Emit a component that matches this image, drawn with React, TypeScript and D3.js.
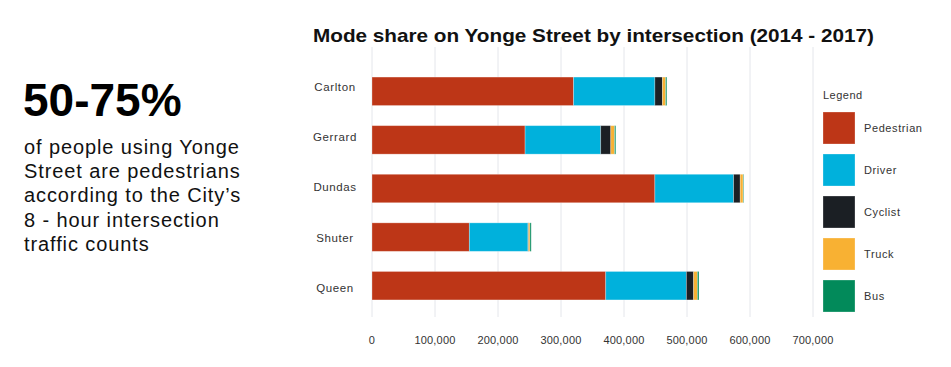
import * as d3 from "d3";
import { useEffect } from "react";

const width = 951;
const height = 367;

const intersections = ["Carlton", "Gerrard", "Dundas", "Shuter", "Queen"];
const modes = ["Pedestrian", "Driver", "Cyclist", "Truck", "Bus"];
const colors = ["#bd3617", "#00b1dc", "#1b1f24", "#f8b133", "#028a5a"];

// counts per intersection, same order as intersections
const pedestrian = [320000, 243000, 449000, 154500, 371000];
const driver = [129000, 120000, 125000, 93000, 128000];
const cyclist = [12000, 16000, 10500, 1000, 11500];
const truck = [5000, 6000, 4500, 2200, 6000];
const bus = [2000, 2000, 1000, 2000, 2500];

const xTicks = [0, 100000, 200000, 300000, 400000, 500000, 600000, 700000];

const paragraph = [
  "of people using Yonge",
  "Street are pedestrians",
  "according to the City\u2019s",
  "8 - hour intersection",
  "traffic counts",
];

const font = "'Liberation Sans', Arial, Helvetica, sans-serif";

const App = () => {
  useEffect(() => {
    document.body.style.margin = "0";
  }, []);

  const rows = intersections.map((name, i) => ({
    name,
    Pedestrian: pedestrian[i],
    Driver: driver[i],
    Cyclist: cyclist[i],
    Truck: truck[i],
    Bus: bus[i],
  }));

  const series = d3.stack().keys(modes)(rows as any);

  const x = d3.scaleLinear().domain([0, 700000]).range([372, 813]);
  const y = d3
    .scaleBand()
    .domain(intersections)
    .range([67, 310])
    .paddingInner(0.414)
    .paddingOuter(0.207);
  // the labels sit on their own, slightly wider spacing
  const yLabel = d3.scalePoint().domain(intersections).range([86.5, 288]);
  const color = d3.scaleOrdinal<string>().domain(modes).range(colors);
  const fmt = d3.format(",");

  return (
    <svg width={width} height={height} style={{ display: "block", fontFamily: font }}>
      <rect width={width} height={height} fill="#fff" />

      {/* left callout */}
      <text x={23} y={116} fontSize={46} fontWeight="bold" fill="#000">
        50-75%
      </text>
      {paragraph.map((line, i) => (
        <text key={line} x={24} y={154 + i * 24.2} fontSize={20} letterSpacing={0.9} fill="#111">
          {line}
        </text>
      ))}

      {/* title */}
      <text x={313} y={42} fontSize={18.5} fontWeight="bold" fill="#111" textLength={561} lengthAdjust="spacingAndGlyphs">
        Mode share on Yonge Street by intersection (2014 - 2017)
      </text>

      {/* gridlines */}
      {xTicks.map((t) => (
        <line key={t} x1={x(t)} x2={x(t)} y1={47} y2={317} stroke="#e4e6eb" strokeWidth={1} />
      ))}

      {/* x labels */}
      {xTicks.map((t) => (
        <text key={t} x={x(t)} y={344} fontSize={11} letterSpacing={0.2} textAnchor="middle" fill="#333">
          {fmt(t)}
        </text>
      ))}

      {/* category labels */}
      {intersections.map((name) => (
        <text
          key={name}
          x={335}
          y={yLabel(name)}
          dy="0.35em"
          fontSize={11.5}
          letterSpacing={0.6}
          textAnchor="middle"
          fill="#333"
        >
          {name}
        </text>
      ))}

      {/* bars */}
      {series.map((s) => (
        <g key={s.key} fill={color(s.key)}>
          {s.map((d, i) => (
            <rect
              key={i}
              x={x(d[0])}
              y={y(intersections[i])}
              width={Math.max(0, x(d[1]) - x(d[0]))}
              height={y.bandwidth()}
              stroke="rgba(255,255,255,0.35)"
              strokeWidth={0.8}
            />
          ))}
        </g>
      ))}

      {/* legend */}
      <text x={823} y={99} fontSize={11} letterSpacing={0.5} fill="#333">
        Legend
      </text>
      {modes.map((m, i) => (
        <g key={m} transform={`translate(823, ${112 + i * 42})`}>
          <rect width={32} height={32} fill={color(m)} stroke="rgba(255,255,255,0.35)" strokeWidth={0.8} />
          <text x={41} y={16} dy="0.35em" fontSize={11} letterSpacing={0.6} fill="#333">
            {m}
          </text>
        </g>
      ))}
    </svg>
  );
};

export default App;
